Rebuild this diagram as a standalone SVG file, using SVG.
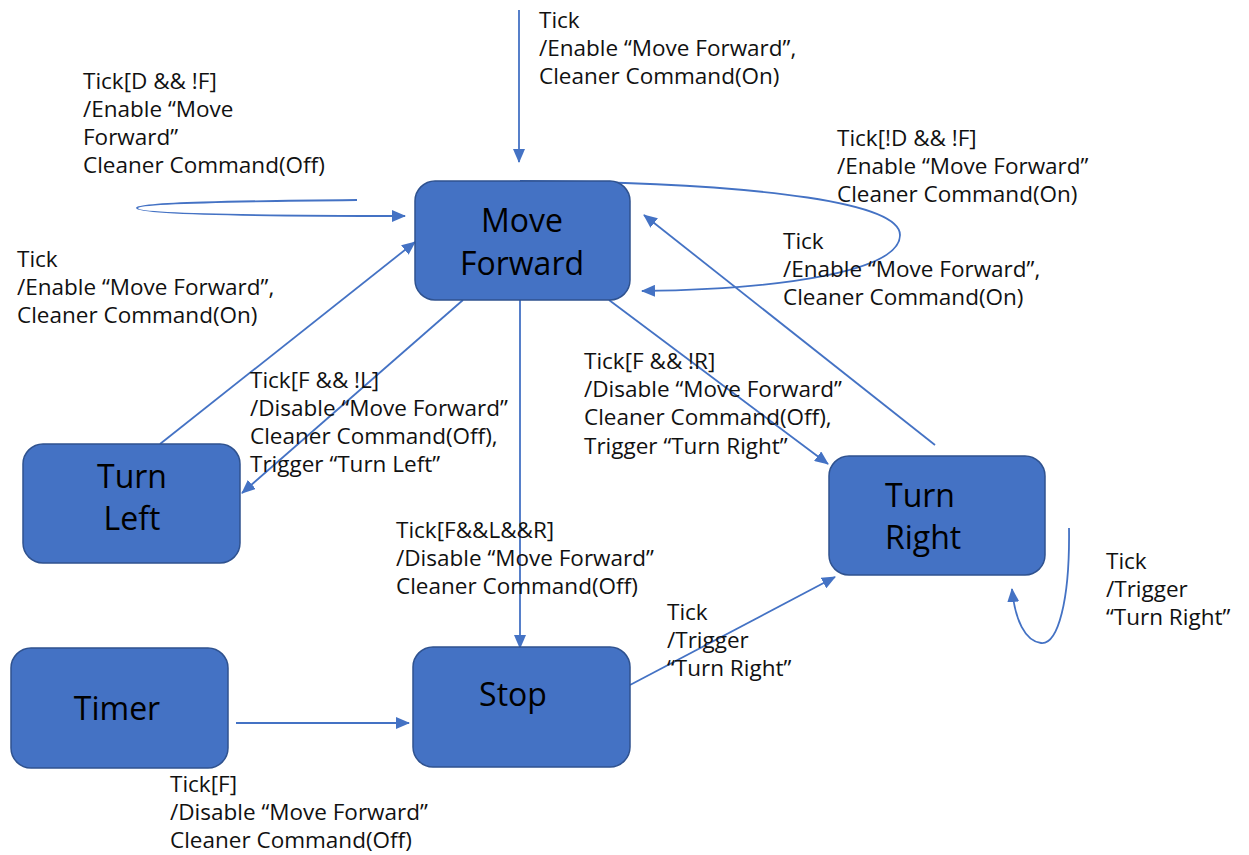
<svg xmlns="http://www.w3.org/2000/svg" width="1249" height="855" viewBox="0 0 1249 855">
  <style>
    .state { fill: #4472C4; stroke: #2F528F; stroke-width: 1.5; }
    .name { font-family: "Open Sans", "Noto Sans", "Noto Sans CJK KR", sans-serif; font-size: 32px; fill: #000; }
    .lbl { font-family: "Open Sans", "Noto Sans", "Noto Sans CJK KR", sans-serif; font-size: 22.5px; fill: #111; }
    .edge { fill: none; stroke: #4472C4; stroke-width: 1.8; marker-end: url(#arrow); }
  </style>
  <defs>
    <marker id="arrow" markerUnits="userSpaceOnUse" markerWidth="14" markerHeight="12" viewBox="0 0 14 12" refX="13" refY="6" orient="auto">
      <path d="M0,0 L14,6 L0,12 Z" fill="#4472C4"/>
    </marker>
  </defs>

  <rect width="1249" height="855" fill="#fff"/>

  <!-- transitions -->
  <g id="connectors">
    <path class="edge" d="M519,10 L519,162"/>
    <path class="edge" d="M357,200 C240,201 137,203 137,208 C137,214 250,216 405,216"/>
    <path class="edge" d="M520,181 C780,183 900,205 900,235 C900,270 790,289 642,291"/>
    <path class="edge" d="M935,445 L644,215"/>
    <path class="edge" d="M609,300 L828,464"/>
    <path class="edge" d="M160,444 L415,242"/>
    <path class="edge" d="M463,300 L242,493"/>
    <path class="edge" d="M520,300 L520,648"/>
    <path class="edge" d="M236,723 L409,723"/>
    <path class="edge" d="M630,685 L835,577"/>
    <path class="edge" d="M1069,528 C1070,600 1058,645 1041,643 C1025,641 1015,620 1012,589"/>
  </g>

  <!-- states -->
  <g id="move-forward">
    <rect class="state" x="415" y="181" width="215" height="119" rx="20"/>
    <text class="name" x="522" y="232" text-anchor="middle">Move</text>
    <text class="name" x="522" y="275" text-anchor="middle">Forward</text>
  </g>
  <g id="turn-left">
    <rect class="state" x="23" y="444" width="217" height="119" rx="20"/>
    <text class="name" x="132" y="488" text-anchor="middle">Turn</text>
    <text class="name" x="132" y="530" text-anchor="middle">Left</text>
  </g>
  <g id="turn-right">
    <rect class="state" x="829" y="456" width="216" height="119" rx="20"/>
    <text class="name" x="885" y="507">Turn</text>
    <text class="name" x="885" y="549">Right</text>
  </g>
  <g id="timer">
    <rect class="state" x="11" y="648" width="217" height="120" rx="20"/>
    <text class="name" x="117" y="720" text-anchor="middle">Timer</text>
  </g>
  <g id="stop">
    <rect class="state" x="413" y="647" width="217" height="120" rx="20"/>
    <text class="name" x="513" y="706" text-anchor="middle">Stop</text>
  </g>

  <!-- transition labels -->
  <g id="labels">
    <text class="lbl" x="539" y="28">Tick</text>
    <text class="lbl" x="539" y="56">/Enable “Move Forward”,</text>
    <text class="lbl" x="539" y="84">Cleaner Command(On)</text>

    <text class="lbl" x="83" y="89">Tick[D &amp;&amp; !F]</text>
    <text class="lbl" x="83" y="117">/Enable “Move</text>
    <text class="lbl" x="83" y="145">Forward”</text>
    <text class="lbl" x="83" y="173">Cleaner Command(Off)</text>

    <text class="lbl" x="837" y="146">Tick[!D &amp;&amp; !F]</text>
    <text class="lbl" x="837" y="174">/Enable “Move Forward”</text>
    <text class="lbl" x="837" y="202">Cleaner Command(On)</text>

    <text class="lbl" x="783" y="249">Tick</text>
    <text class="lbl" x="783" y="277">/Enable “Move Forward”,</text>
    <text class="lbl" x="783" y="305">Cleaner Command(On)</text>

    <text class="lbl" x="17" y="267">Tick</text>
    <text class="lbl" x="17" y="295">/Enable “Move Forward”,</text>
    <text class="lbl" x="17" y="323">Cleaner Command(On)</text>

    <text class="lbl" x="250" y="388">Tick[F &amp;&amp; !L]</text>
    <text class="lbl" x="250" y="416">/Disable “Move Forward”</text>
    <text class="lbl" x="250" y="444">Cleaner Command(Off),</text>
    <text class="lbl" x="250" y="472">Trigger “Turn Left”</text>

    <text class="lbl" x="584" y="369">Tick[F &amp;&amp; !R]</text>
    <text class="lbl" x="584" y="397">/Disable “Move Forward”</text>
    <text class="lbl" x="584" y="425">Cleaner Command(Off),</text>
    <text class="lbl" x="584" y="454">Trigger “Turn Right”</text>

    <text class="lbl" x="396" y="538">Tick[F&amp;&amp;L&amp;&amp;R]</text>
    <text class="lbl" x="396" y="566">/Disable “Move Forward”</text>
    <text class="lbl" x="396" y="594">Cleaner Command(Off)</text>

    <text class="lbl" x="667" y="620">Tick</text>
    <text class="lbl" x="667" y="648">/Trigger</text>
    <text class="lbl" x="667" y="676">“Turn Right”</text>

    <text class="lbl" x="1106" y="569">Tick</text>
    <text class="lbl" x="1106" y="597">/Trigger</text>
    <text class="lbl" x="1106" y="625">“Turn Right”</text>

    <text class="lbl" x="170" y="792">Tick[F]</text>
    <text class="lbl" x="170" y="820">/Disable “Move Forward”</text>
    <text class="lbl" x="170" y="848">Cleaner Command(Off)</text>
  </g>
</svg>
